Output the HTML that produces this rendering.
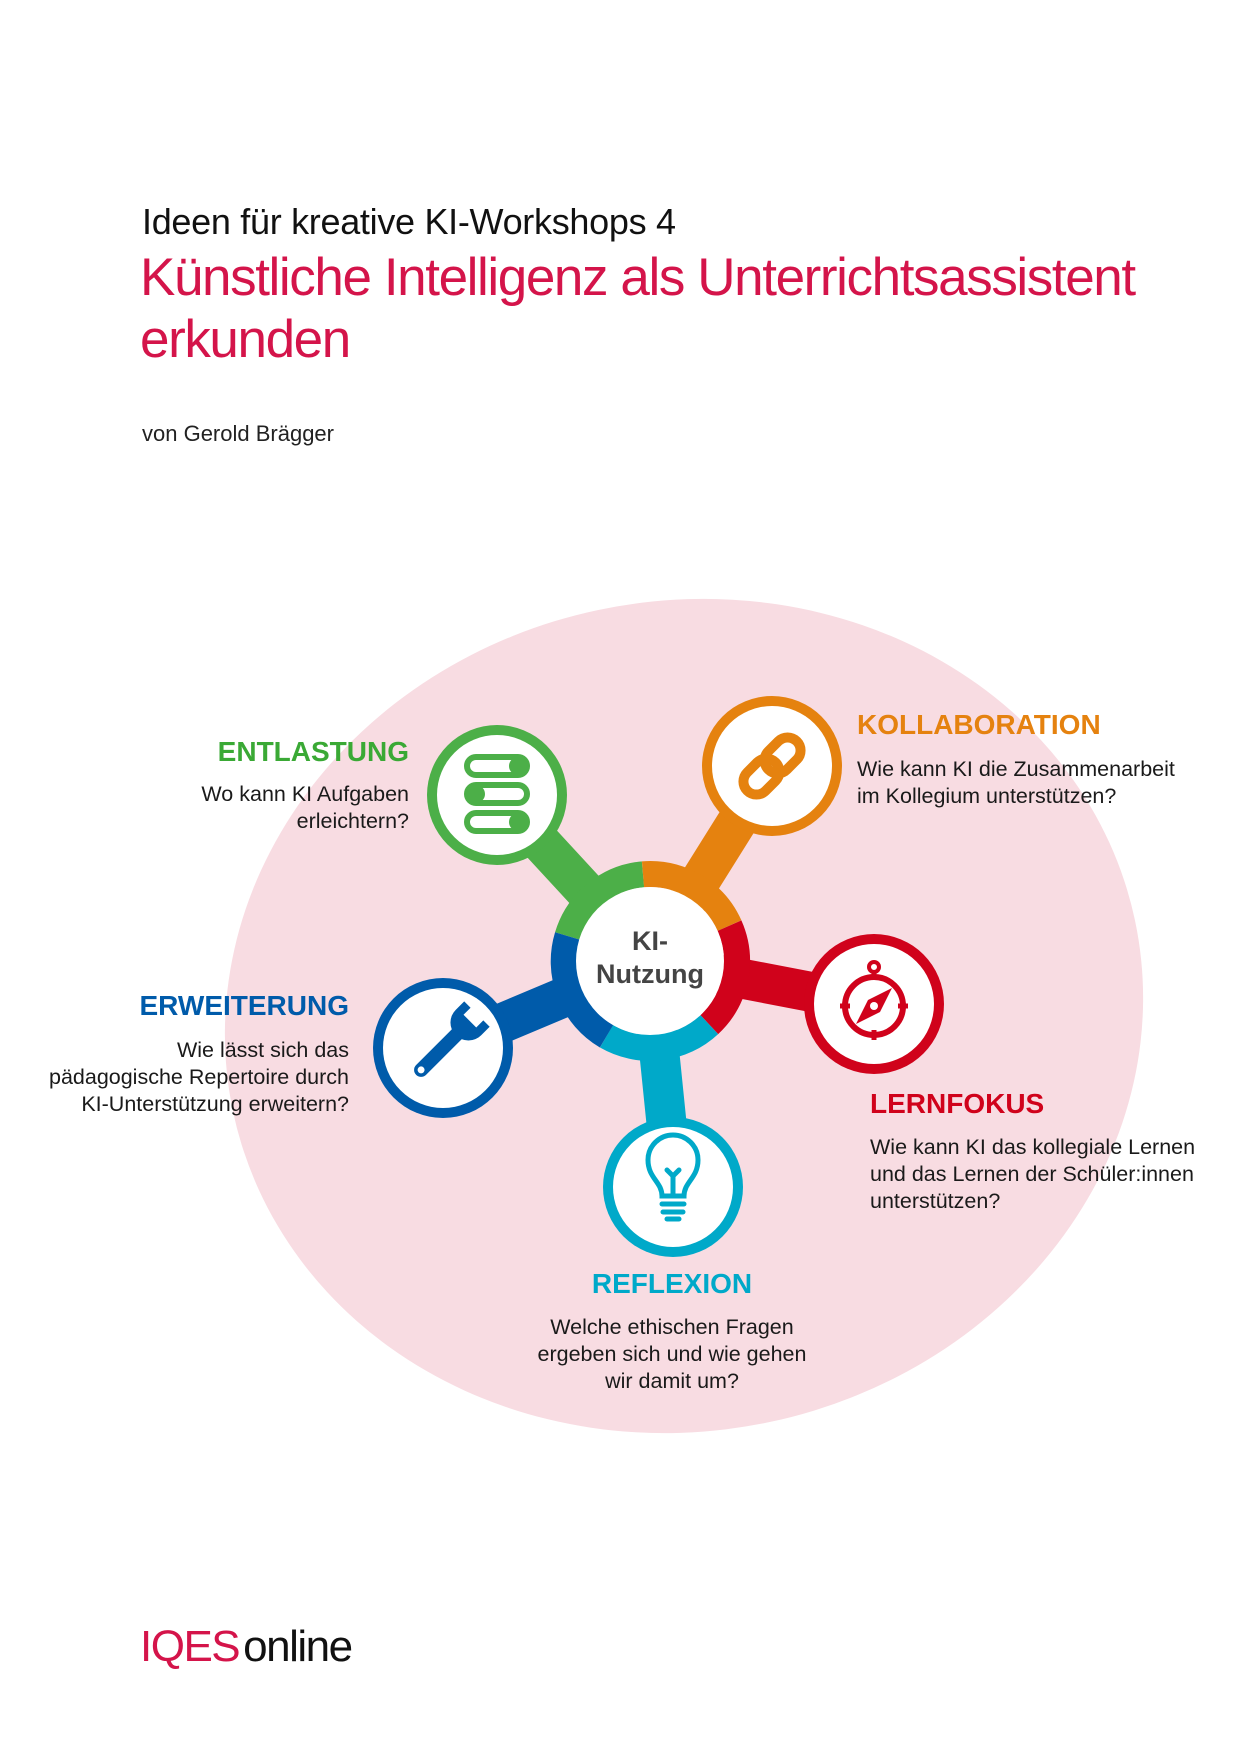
<!DOCTYPE html>
<html><head><meta charset="utf-8">
<style>
html,body{margin:0;padding:0;background:#fff;}
body{width:1240px;height:1754px;position:relative;overflow:hidden;font-family:"Liberation Sans",sans-serif;}
.t{position:absolute;white-space:nowrap;}
.h{font-weight:bold;font-size:28px;}
.q{font-size:21.5px;line-height:27px;color:#1a1a1a;}
</style></head><body>
<div class="t" style="left:142px;top:201px;font-size:36px;letter-spacing:-0.3px;color:#111;">Ideen für kreative KI-Workshops 4</div>
<div class="t" style="left:140px;top:247px;font-size:53px;line-height:62px;letter-spacing:-1.4px;color:#d4144a;">Künstliche Intelligenz als Unterrichtsassistent<br>erkunden</div>
<div class="t" style="left:142px;top:421px;font-size:22px;color:#222;">von Gerold Brägger</div>

<svg width="1240" height="1754" style="position:absolute;left:0;top:0;">
<ellipse cx="684" cy="1016" rx="461" ry="415" fill="#f8dce2" transform="rotate(-12 684 1016)"/>
<g stroke-linecap="round">
<line x1="650" y1="961" x2="497" y2="795" stroke="#4caf48" stroke-width="40"/>
<line x1="650" y1="961" x2="772" y2="766" stroke="#e5820f" stroke-width="40"/>
<line x1="650" y1="961" x2="874" y2="1004" stroke="#d0021b" stroke-width="40"/>
<line x1="650" y1="961" x2="443" y2="1048" stroke="#005baa" stroke-width="40"/>
<line x1="650" y1="961" x2="673" y2="1187" stroke="#00a9c9" stroke-width="40"/>
</g>
<g>
<circle cx="497" cy="795" r="70" fill="#4caf48"/><circle cx="497" cy="795" r="60" fill="#fff"/>
<circle cx="772" cy="766" r="70" fill="#e5820f"/><circle cx="772" cy="766" r="60" fill="#fff"/>
<circle cx="874" cy="1004" r="70" fill="#d0021b"/><circle cx="874" cy="1004" r="60" fill="#fff"/>
<circle cx="443" cy="1048" r="70" fill="#005baa"/><circle cx="443" cy="1048" r="60" fill="#fff"/>
<circle cx="673" cy="1187" r="70" fill="#00a9c9"/><circle cx="673" cy="1187" r="60" fill="#fff"/>
</g>
<g fill="none" stroke-width="26">
<path d="M 567.5 936.0 A 87 87 0 0 1 643 874.3" stroke="#4caf48"/>
<path d="M 643 874.3 A 87 87 0 0 1 729.5 925.6" stroke="#e5820f"/>
<path d="M 729.5 925.6 A 87 87 0 0 1 709.3 1024.6" stroke="#d0021b"/>
<path d="M 709.3 1024.6 A 87 87 0 0 1 606.5 1036.3" stroke="#00a9c9"/>
<path d="M 606.5 1036.3 A 87 87 0 0 1 567.5 936.0" stroke="#005baa"/>
</g>
<circle cx="650" cy="961" r="74" fill="#fff"/>
<text x="650" y="950" text-anchor="middle" font-family="Liberation Sans" font-weight="bold" font-size="27" fill="#444">KI-</text>
<text x="650" y="983" text-anchor="middle" font-family="Liberation Sans" font-weight="bold" font-size="27" fill="#444">Nutzung</text>

<g fill="none" stroke="#4caf48" stroke-width="6">
<rect x="467" y="757" width="60" height="18" rx="9"/><circle cx="518" cy="766" r="6" fill="#4caf48"/>
<rect x="467" y="785" width="60" height="18" rx="9"/><circle cx="476" cy="794" r="6" fill="#4caf48"/>
<rect x="467" y="813" width="60" height="18" rx="9"/><circle cx="518" cy="822" r="6" fill="#4caf48"/>
</g>
<g fill="none" stroke="#e5820f" stroke-width="10" transform="rotate(-45 772 766)">
<rect x="737" y="753" width="40" height="26" rx="13"/>
<rect x="767" y="753" width="40" height="26" rx="13"/>
</g>
<g stroke="#d0021b" fill="none">
<circle cx="874" cy="1006" r="29" stroke-width="6"/>
<circle cx="874" cy="967" r="5" stroke-width="4"/>
<line x1="874" y1="972" x2="874" y2="980" stroke-width="5"/>
<line x1="874" y1="1030" x2="874" y2="1040" stroke-width="5"/>
<line x1="840" y1="1006" x2="850" y2="1006" stroke-width="5"/>
<line x1="898" y1="1006" x2="908" y2="1006" stroke-width="5"/>
</g>
<polygon points="892,988 880,1012 856,1024 868,1000" fill="#d0021b"/>
<circle cx="874" cy="1006" r="4" fill="#fff"/>
<g transform="rotate(45 443 1048)">
<rect x="436" y="1020" width="14" height="66" rx="7" fill="#005baa"/>
<path d="M425 1000 l0 12 a18 18 0 0 0 36 0 l0 -12 l-9 0 l0 10 l-18 0 l0 -10 z" fill="#005baa"/>
<circle cx="443" cy="1079" r="3.5" fill="#fff"/>
</g>
<g fill="none" stroke="#00a9c9" stroke-width="5" stroke-linecap="round">
<path d="M662 1196 C662 1182 648 1178 648 1160 A25 25 0 0 1 698 1160 C698 1178 684 1182 684 1196 Z"/>
<path d="M667 1170 L673 1176 L679 1170 M673 1176 L673 1194"/>
<line x1="662" y1="1204" x2="684" y2="1204"/>
<line x1="663" y1="1212" x2="683" y2="1212"/>
<line x1="667" y1="1219" x2="679" y2="1219"/>
</g>
</svg>

<div class="t h" style="right:831px;top:736px;color:#3aa935;">ENTLASTUNG</div>
<div class="t q" style="right:831px;top:781px;text-align:right;">Wo kann KI Aufgaben<br>erleichtern?</div>

<div class="t h" style="left:857px;top:709px;color:#e5820f;">KOLLABORATION</div>
<div class="t q" style="left:857px;top:756px;">Wie kann KI die Zusammenarbeit<br>im Kollegium unterstützen?</div>

<div class="t h" style="right:891px;top:990px;color:#005baa;">ERWEITERUNG</div>
<div class="t q" style="right:891px;top:1037px;text-align:right;">Wie lässt sich das<br>pädagogische Repertoire durch<br>KI-Unterstützung erweitern?</div>

<div class="t h" style="left:870px;top:1088px;color:#d0021b;">LERNFOKUS</div>
<div class="t q" style="left:870px;top:1134px;">Wie kann KI das kollegiale Lernen<br>und das Lernen der Schüler:innen<br>unterstützen?</div>

<div class="t h" style="left:472px;width:400px;text-align:center;top:1268px;color:#00a9c9;">REFLEXION</div>
<div class="t q" style="left:472px;width:400px;text-align:center;top:1314px;">Welche ethischen Fragen<br>ergeben sich und wie gehen<br>wir damit um?</div>

<div class="t" style="left:140px;top:1622px;font-size:44px;letter-spacing:-1.5px;"><span style="color:#d4144a;">IQES</span><span style="color:#111;margin-left:4px;">online</span></div>
</body></html>
